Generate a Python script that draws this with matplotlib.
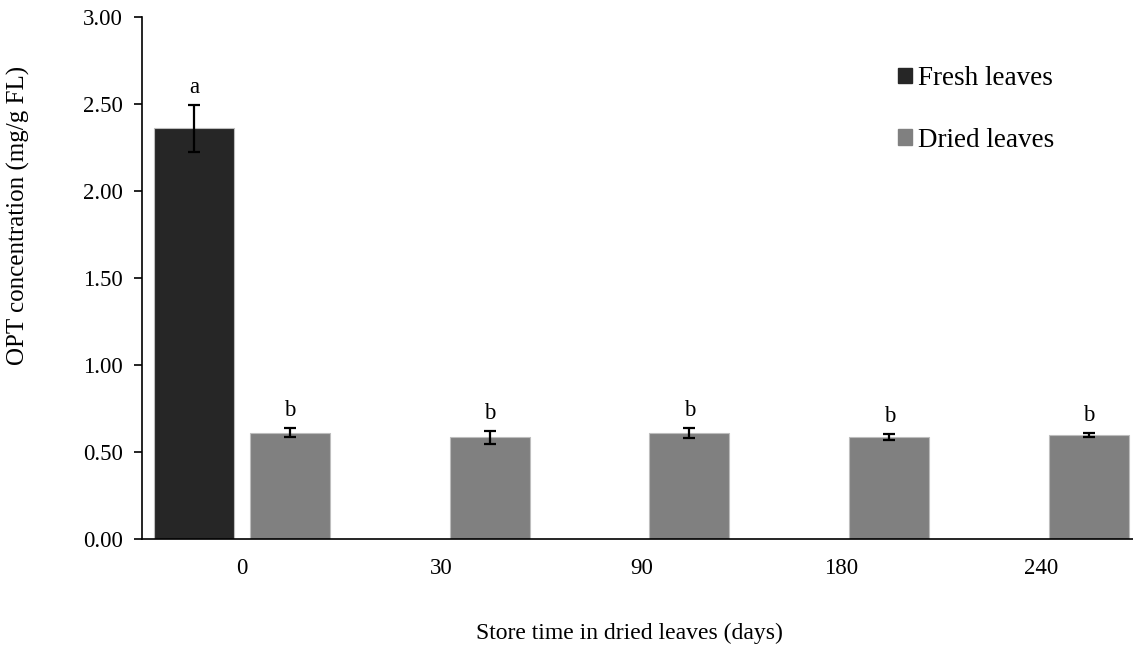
import numpy as np
import matplotlib.pyplot as plt
from matplotlib.patches import Patch

plt.rcParams['font.family'] = ['Liberation Serif', 'DejaVu Serif']

days = ['0', '30', '90', '180', '240']
fresh = [2.36, np.nan, np.nan, np.nan, np.nan]
fresh_err = [0.135, np.nan, np.nan, np.nan, np.nan]
dried = [0.61, 0.585, 0.61, 0.585, 0.597]
dried_err = [0.026, 0.038, 0.03, 0.018, 0.011]
fresh_letters = ['a', '', '', '', '']
dried_letters = ['b', 'b', 'b', 'b', 'b']

c_fresh = '#262626'
c_dried = '#808080'

fig = plt.figure(figsize=(11.33, 6.47), dpi=100)
ax = fig.add_axes([142/1133, 108/647, 999/1133, 522/647])

x = np.arange(len(days))
w = 0.40
off = 0.24

ax.bar(x - off, fresh, w, color=c_fresh, edgecolor='#bdbdbd', linewidth=0.8)
ax.bar(x + off, dried, w, color=c_dried, edgecolor='#bdbdbd', linewidth=0.8)
ekw = dict(fmt='none', ecolor='black', elinewidth=1.6, capsize=4, capthick=1.6)
ax.errorbar(x - off, fresh, yerr=fresh_err, **ekw)
ax.errorbar(x + off, dried, yerr=dried_err, **ekw)

for i in range(len(days)):
    if fresh_letters[i]:
        ax.text(x[i] - off, fresh[i] + fresh_err[i] + 0.04, fresh_letters[i],
                ha='center', va='bottom', fontsize=16.5)
    if dried_letters[i]:
        ax.text(x[i] + off, dried[i] + dried_err[i] + 0.04, dried_letters[i],
                ha='center', va='bottom', fontsize=16.5)

ax.set_xlim(-0.5, 4.5)
ax.set_ylim(0, 3.0)
ax.set_yticks(np.arange(0, 3.01, 0.5))
ax.set_yticklabels(['%.2f' % v for v in np.arange(0, 3.01, 0.5)])
ax.set_xticks(x)
ax.set_xticklabels(days)
ax.tick_params(axis='x', length=0, labelsize=16.5, pad=14)
ax.tick_params(axis='y', length=6, width=1.2, labelsize=16.5, direction='out', pad=8)

for s in ['top', 'right']:
    ax.spines[s].set_visible(False)
ax.spines['left'].set_linewidth(1.2)
ax.spines['bottom'].set_linewidth(1.2)

ax.set_xlabel('Store time in dried leaves (days)', fontsize=17)
ax.xaxis.set_label_coords((629.5 - 142) / 999, -0.16)
ax.set_ylabel('OPT concentration (mg/g FL)', fontsize=18)
ax.yaxis.set_label_coords((30 - 142) / 999, 0.62)

handles = [Patch(color=c_fresh, label='Fresh leaves'),
           Patch(color=c_dried, label='Dried leaves')]
fig.legend(handles=handles, loc='upper left', bbox_to_anchor=(898/1133, 1 - 66/647),
           frameon=False, fontsize=19.5, handlelength=0.5, handleheight=0.5,
           handletextpad=0.22, labelspacing=1.35, borderpad=0, borderaxespad=0)

fig.savefig('out.png', dpi=100)
